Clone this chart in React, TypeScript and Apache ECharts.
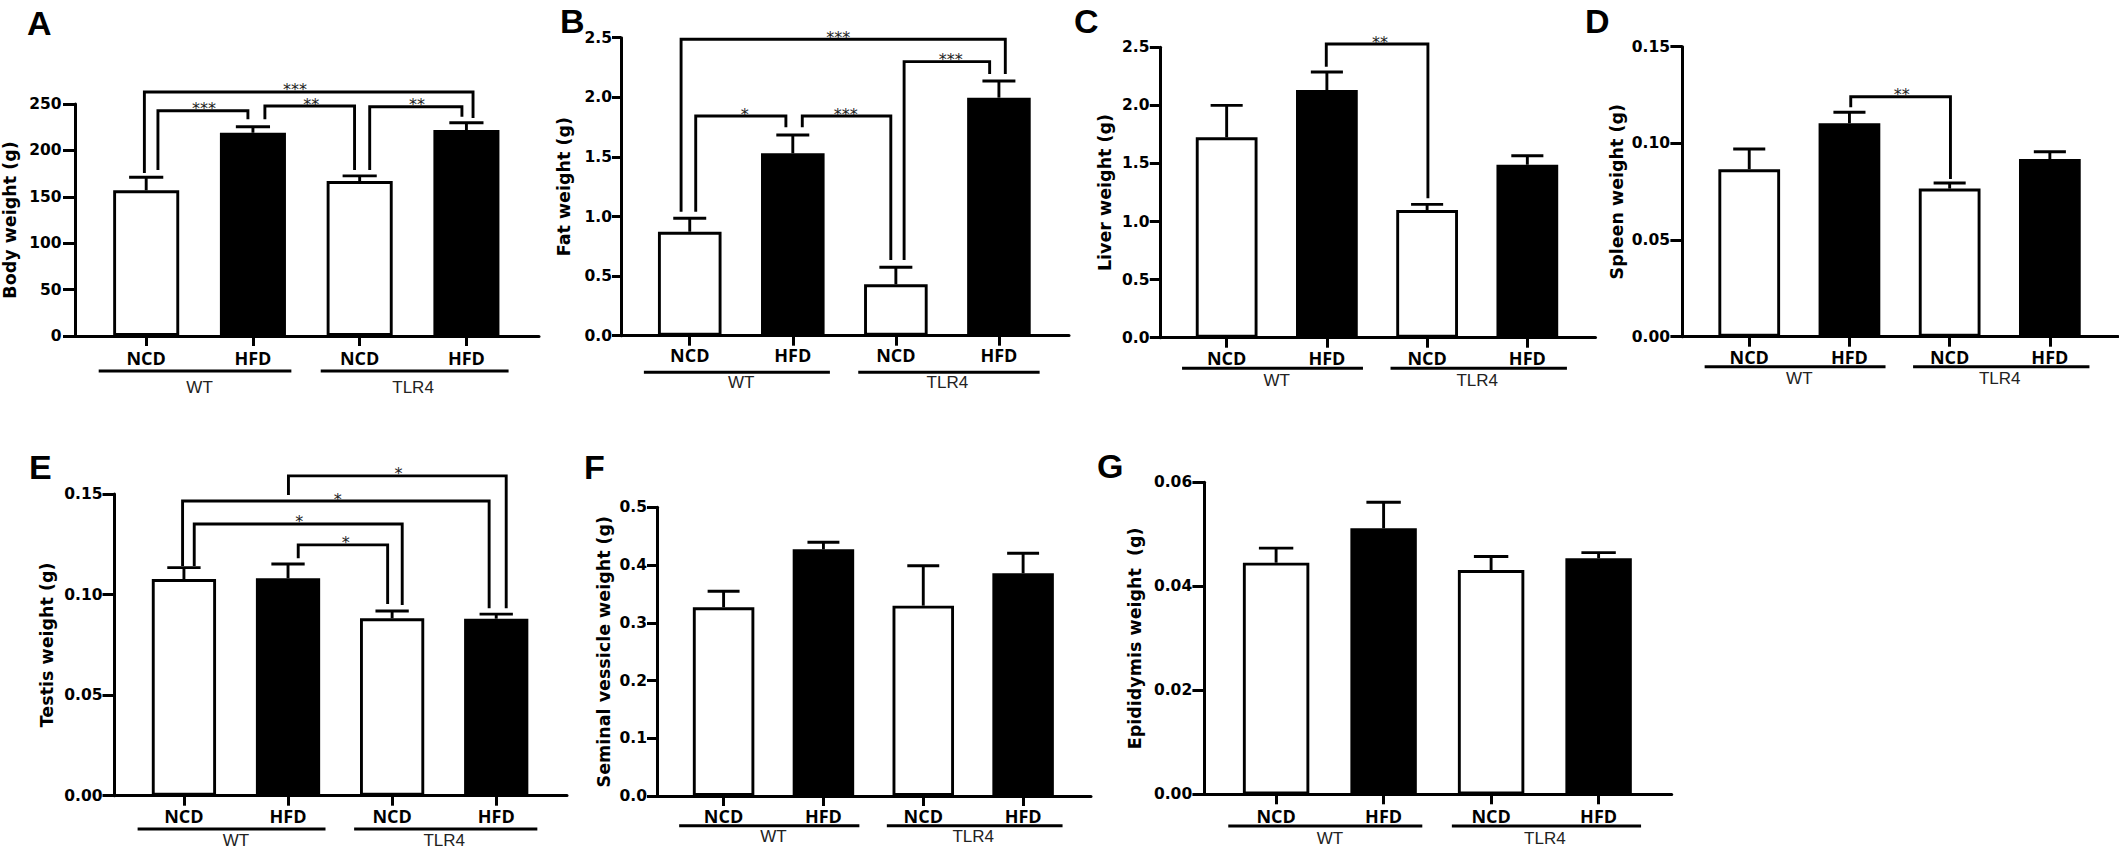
import React, { useEffect, useRef } from 'react';
import * as echarts from 'echarts';

// ---------------- data ----------------
const categories = ['NCD', 'HFD', 'NCD', 'HFD'];
const groupNames = ['WT', 'TLR4'];
const groupCenters = [0.5, 2.5];

const panelLetters = ['A', 'B', 'C', 'D', 'E', 'F', 'G'];
const yTitles = [
  'Body weight (g)',
  'Fat weight (g)',
  'Liver weight (g)',
  'Spleen weight (g)',
  'Testis weight (g)',
  'Seminal vessicle weight (g)',
  'Epididymis weight  (g)',
];
const yMaxes = [250, 2.5, 2.5, 0.15, 0.15, 0.5, 0.06];
const yIntervals = [50, 0.5, 0.5, 0.05, 0.05, 0.1, 0.02];
const yDecimals = [0, 1, 1, 2, 2, 1, 2];

const bodyMean = [157, 219, 167, 222];
const bodySem = [14, 6.5, 5.5, 7.8];
const fatMean = [0.872, 1.53, 0.431, 1.997];
const fatSem = [0.113, 0.154, 0.143, 0.14];
const liverMean = [1.725, 2.132, 1.099, 1.489];
const liverSem = [0.275, 0.155, 0.049, 0.078];
const spleenMean = [0.0866, 0.1104, 0.0766, 0.0919];
const spleenSem = [0.0105, 0.0057, 0.0029, 0.0038];
const testisMean = [0.1077, 0.1081, 0.0882, 0.088];
const testisSem = [0.0057, 0.0071, 0.0036, 0.0023];
const vesicleMean = [0.3268, 0.4272, 0.3296, 0.3857];
const vesicleSem = [0.0277, 0.0122, 0.0692, 0.0346];
const epididymisMean = [0.04454, 0.05115, 0.04313, 0.04538];
const epididymisSem = [0.0028, 0.005, 0.0026, 0.0011];

// significance brackets: [left leg x, right leg x, bracket height, left leg end, right leg end, label x]
const bodyBrackets = [
  [-0.017, 3.062, 263, 175.6, 235, 1.393],
  [0.11, 0.953, 242.8, 178.9, 233.5, 0.541],
  [1.112, 1.952, 247.8, 233.5, 178.9, 1.547],
  [2.094, 2.958, 247.1, 178.9, 236.3, 2.537],
];
const bodyStars = ['***', '***', '**', '**'];
const fatBrackets = [
  [-0.084, 3.062, 2.487, 1.04, 2.195, 1.441],
  [0.058, 0.933, 1.843, 1.04, 1.748, 0.533],
  [1.092, 1.951, 1.843, 1.748, 0.635, 1.514],
  [2.08, 2.91, 2.299, 0.635, 2.195, 2.532],
];
const fatStars = ['***', '*', '***', '***'];
const liverBrackets = [[0.994, 2.008, 2.528, 2.333, 1.2, 1.529]];
const liverStars = ['**'];
const spleenBrackets = [[1.013, 2.008, 0.1241, 0.1187, 0.0816, 1.521]];
const spleenStars = ['**'];
const testisBrackets = [
  [1.004, 3.096, 0.159, 0.1495, 0.0932, 2.062],
  [-0.013, 2.932, 0.1465, 0.1142, 0.0932, 1.477],
  [0.099, 2.097, 0.1351, 0.1142, 0.0948, 1.109],
  [1.098, 1.957, 0.1247, 0.118, 0.0953, 1.554],
];
const testisStars = ['*', '*', '*', '*'];

const means = [bodyMean, fatMean, liverMean, spleenMean, testisMean, vesicleMean, epididymisMean];
const sems = [bodySem, fatSem, liverSem, spleenSem, testisSem, vesicleSem, epididymisSem];
const brackets = [bodyBrackets, fatBrackets, liverBrackets, spleenBrackets, testisBrackets, [], []];
const stars = [bodyStars, fatStars, liverStars, spleenStars, testisStars, [], []];

// ---------------- layout (pixels) ----------------
const X_MIN = -0.667;
const X_MAX = 3.68;
const underlineSpans = [
  [-0.445, 1.36],
  [1.635, 3.395],
];
const layout = [
  { left: 74.4, top: 104, width: 464.6, height: 232, lx: 27, ly: 23, nameGap: 56, labMargin: 13.5, tick: 12, cat: 22, line: 35, grp: 51 },
  { left: 621, top: 37.7, width: 448, height: 298, lx: 560, ly: 20.5, nameGap: 48, labMargin: 9, tick: 9, cat: 19.3, line: 36.6, grp: 47 },
  { left: 1159.8, top: 47.3, width: 435.7, height: 290.4, lx: 1074, ly: 20.5, nameGap: 45.6, labMargin: 10.3, tick: 10, cat: 20.6, line: 30.6, grp: 42.3 },
  { left: 1682.4, top: 46.7, width: 435.6, height: 290, lx: 1585, ly: 21, nameGap: 56.5, labMargin: 12.4, tick: 12, cat: 20, line: 30, grp: 41.3 },
  { left: 114.5, top: 494, width: 452.5, height: 301.7, lx: 29, ly: 467, nameGap: 58.5, labMargin: 12, tick: 12, cat: 20, line: 33.3, grp: 45 },
  { left: 657, top: 507.3, width: 434, height: 288.7, lx: 584, ly: 467, nameGap: 44.5, labMargin: 10, tick: 10, cat: 19.7, line: 29.7, grp: 40.7 },
  { left: 1204.4, top: 482.3, width: 467.3, height: 312, lx: 1097, ly: 466, nameGap: 60.7, labMargin: 12.2, tick: 12, cat: 21.4, line: 31.7, grp: 44 },
];
const LW = 2.9;
const AXIS_LW = 3;
const BAR_FRAC = 0.645;
const CAP_UNITS = 0.32;

function buildOption() {
  const grid: any[] = [];
  const xAxis: any[] = [];
  const yAxis: any[] = [];
  const series: any[] = [];
  const graphic: any[] = [];

  panelLetters.forEach((letter, i) => {
    const L = layout[i];
    grid.push({ left: L.left, top: L.top, width: L.width, height: L.height, containLabel: false });
    xAxis.push({
      type: 'value',
      gridIndex: i,
      min: X_MIN,
      max: X_MAX,
      axisLine: { show: true, onZero: false, lineStyle: { color: '#000', width: AXIS_LW } },
      axisTick: { show: true, customValues: [0, 1, 2, 3], length: 10, lineStyle: { color: '#000', width: AXIS_LW } },
      axisLabel: {
        show: true,
        customValues: [0, 1, 2, 3],
        formatter: (v: number) => categories[Math.round(v)],
        margin: L.cat,
        verticalAlign: 'middle',
        fontFamily: 'Open Sans',
        fontWeight: 'bold',
        fontSize: 18,
        color: '#000',
      },
      splitLine: { show: false },
    });
    const dec = yDecimals[i];
    yAxis.push({
      type: 'value',
      gridIndex: i,
      min: 0,
      max: yMaxes[i],
      interval: yIntervals[i],
      axisLine: { show: true, onZero: false, lineStyle: { color: '#000', width: AXIS_LW } },
      axisTick: { show: true, length: L.tick, lineStyle: { color: '#000', width: AXIS_LW } },
      axisLabel: {
        margin: L.labMargin,
        formatter: (v: number) => v.toFixed(dec),
        fontFamily: 'DejaVu Sans',
        fontWeight: 'bold',
        fontSize: 15.5,
        color: '#000',
      },
      splitLine: { show: false },
      name: yTitles[i],
      nameLocation: 'middle',
      nameRotate: 90,
      nameGap: L.nameGap,
      nameTextStyle: { fontFamily: 'DejaVu Sans', fontWeight: 'bold', fontSize: 17.5, color: '#000' },
    });

    const spacing = L.width / (X_MAX - X_MIN);
    series.push({
      type: 'bar',
      xAxisIndex: i,
      yAxisIndex: i,
      barWidth: spacing * BAR_FRAC - LW,
      silent: true,
      z: 2,
      data: means[i].map((m, k) => ({
        value: [k, m],
        itemStyle: { color: k % 2 === 0 ? '#fff' : '#000', borderColor: '#000', borderWidth: LW },
      })),
    });

    series.push({
      type: 'custom',
      xAxisIndex: i,
      yAxisIndex: i,
      silent: true,
      z: 3,
      data: means[i].map((m, k) => [k, m, sems[i][k]]),
      renderItem: (params: any, api: any) => {
        const x = api.value(0);
        const m = api.value(1);
        const s = api.value(2);
        const p0 = api.coord([x, m]);
        const p1 = api.coord([x, m + s]);
        const half = api.size([CAP_UNITS, 0])[0] / 2;
        const st = { stroke: '#000', lineWidth: LW };
        return {
          type: 'group',
          children: [
            { type: 'line', shape: { x1: p0[0], y1: p0[1], x2: p1[0], y2: p1[1] }, style: st },
            { type: 'line', shape: { x1: p1[0] - half, y1: p1[1], x2: p1[0] + half, y2: p1[1] }, style: st },
          ],
        };
      },
    });

    if (brackets[i].length) {
      const labels = stars[i];
      series.push({
        type: 'custom',
        xAxisIndex: i,
        yAxisIndex: i,
        silent: true,
        clip: false,
        z: 4,
        data: brackets[i],
        renderItem: (params: any, api: any) => {
          const x1 = api.value(0);
          const x2 = api.value(1);
          const top = api.value(2);
          const lb = api.value(3);
          const rb = api.value(4);
          const lx = api.value(5);
          const a = api.coord([x1, lb]);
          const b = api.coord([x1, top]);
          const c = api.coord([x2, top]);
          const d = api.coord([x2, rb]);
          const t = api.coord([lx, top]);
          return {
            type: 'group',
            children: [
              {
                type: 'polyline',
                shape: { points: [a, b, c, d] },
                style: { stroke: '#000', lineWidth: LW, fill: 'none' },
              },
              {
                type: 'text',
                x: t[0],
                y: t[1] - 2,
                style: {
                  text: labels[params.dataIndex],
                  align: 'center',
                  verticalAlign: 'middle',
                  fontFamily: 'DejaVu Sans',
                  fontSize: 16,
                  lineHeight: 12,
                  fill: '#222',
                },
              },
            ],
          };
        },
      });
    }

    series.push({
      type: 'custom',
      xAxisIndex: i,
      yAxisIndex: i,
      silent: true,
      clip: false,
      z: 4,
      data: groupCenters.map((c) => [c, 0]),
      renderItem: (params: any, api: any) => {
        const span = underlineSpans[params.dataIndex];
        const a = api.coord([span[0], 0]);
        const b = api.coord([span[1], 0]);
        const c = api.coord([api.value(0), 0]);
        return {
          type: 'group',
          children: [
            {
              type: 'line',
              shape: { x1: a[0], y1: a[1] + L.line, x2: b[0], y2: b[1] + L.line },
              style: { stroke: '#000', lineWidth: LW },
            },
            {
              type: 'text',
              x: c[0],
              y: c[1] + L.grp,
              style: {
                text: groupNames[params.dataIndex],
                align: 'center',
                verticalAlign: 'middle',
                fontFamily: 'Liberation Sans',
                fontSize: 17,
                lineHeight: 14,
                fill: '#222',
              },
            },
          ],
        };
      },
    });

    graphic.push({
      type: 'text',
      x: L.lx,
      y: L.ly,
      style: {
        text: letter,
        align: 'left',
        verticalAlign: 'middle',
        fontFamily: 'Liberation Sans',
        fontWeight: 'bold',
        fontSize: 34,
        lineHeight: 26,
        fill: '#000',
      },
    });
  });

  return {
    animation: false,
    backgroundColor: '#fff',
    textStyle: { fontFamily: 'DejaVu Sans' },
    grid,
    xAxis,
    yAxis,
    series,
    graphic,
  };
}

export default function App() {
  const ref = useRef<HTMLDivElement>(null);
  useEffect(() => {
    const chart = echarts.init(ref.current as HTMLDivElement, null, { renderer: 'svg', width: 2119, height: 851 });
    chart.setOption(buildOption() as any);
    return () => chart.dispose();
  }, []);
  return (
    <div
      ref={ref}
      style={{ position: 'absolute', left: 0, top: 0, width: 2119, height: 851, background: '#fff' }}
    />
  );
}
